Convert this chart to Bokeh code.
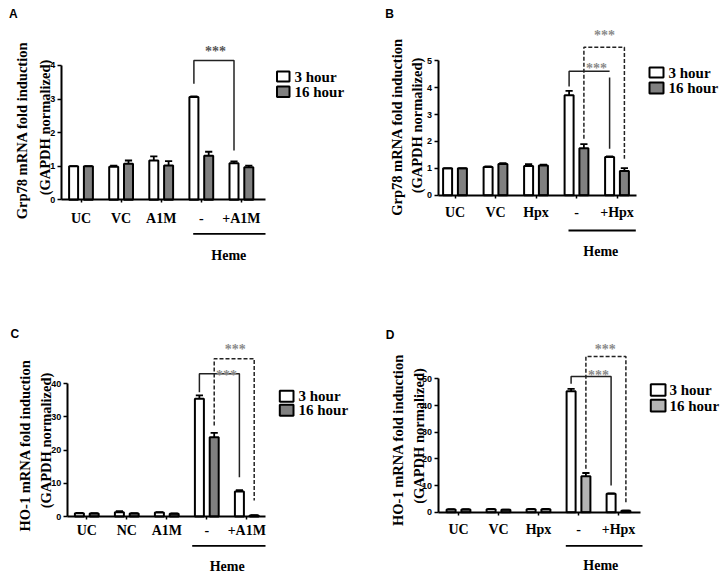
import numpy as np
from bokeh.plotting import figure
from bokeh.layouts import gridplot
from bokeh.models import FixedTicker, Range1d, ColumnDataSource
from bokeh.core.properties import value
from bokeh.embed import file_html
from bokeh.resources import INLINE

# ---------------- data ----------------
series = ["3 hour", "16 hour"]
group_label = "Heme"
ylab2 = "(GAPDH normalized)"

cats_A = ["UC", "VC", "A1M", "-", "+A1M"]
a_3h = [1.00, 0.98, 1.17, 3.06, 1.09]
a_3h_err = [0.00, 0.04, 0.12, 0.02, 0.05]
a_16h = [1.00, 1.07, 1.02, 1.31, 0.97]
a_16h_err = [0.00, 0.10, 0.13, 0.12, 0.05]
a_ticks = [0, 1, 2, 3, 4]
a_ylab = "Grp78 mRNA fold induction"

cats_B = ["UC", "VC", "Hpx", "-", "+Hpx"]
b_3h = [1.00, 1.05, 1.09, 3.72, 1.42]
b_3h_err = [0.00, 0.02, 0.06, 0.16, 0.02]
b_16h = [1.00, 1.16, 1.10, 1.75, 0.90]
b_16h_err = [0.00, 0.03, 0.04, 0.15, 0.11]
b_ticks = [0, 1, 2, 3, 4, 5]
b_ylab = "Grp78 mRNA fold induction"

cats_C = ["UC", "NC", "A1M", "-", "+A1M"]
c_3h = [1.0, 1.3, 1.2, 35.5, 7.5]
c_3h_err = [0.1, 0.3, 0.1, 1.0, 0.4]
c_16h = [0.9, 0.9, 0.8, 23.9, 0.3]
c_16h_err = [0.1, 0.1, 0.1, 1.3, 0.1]
c_ticks = [0, 10, 20, 30, 40]
c_ylab = "HO-1 mRNA fold induction"

cats_D = ["UC", "VC", "Hpx", "-", "+Hpx"]
d_3h = [1.0, 1.1, 1.1, 45.4, 6.9]
d_3h_err = [0.1, 0.1, 0.1, 0.9, 0.2]
d_16h = [1.0, 0.9, 1.1, 13.5, 0.5]
d_16h_err = [0.1, 0.1, 0.1, 1.2, 0.1]
d_ticks = [0, 10, 20, 30, 40, 50]
d_ylab = "HO-1 mRNA fold induction"

stars = "***"

# ---------------- layout (pixel geometry of each panel) ----------------
SERIF = "Liberation Serif"
SANS = "Liberation Sans"

geo = {
    "A": dict(ox=0, oy=0, w=362, h=287, axis_x=60.7, x_end=265, x0=80.5, sp=40.1, y0=199.3, ypx=33.6,
              standoff=8, letter=(8.5, 13.5),
              yl1=(21, 130), yl2=(44, 127),
              heme_line=(192.7, 265, 233.3), heme_txt=(228.3, 254.5),
              leg=dict(x=(276.5, 289), y1=(71, 81), y2=(86, 96.5), tx=294),
              fill16="#808080",
              brackets=[dict(kind="solid", top=60, lb=83.3, rb=150, rt=None, star=(215, 43.5), sc="#555555")]),
    "B": dict(ox=362, oy=0, w=363, h=287, axis_x=437.5, x_end=636, x0=454.5, sp=40.5, y0=194.7, ypx=26.9,
              standoff=7, letter=(384.7, 13.5),
              yl1=(396, 126.5), yl2=(416, 125),
              heme_line=(568, 635.3, 230), heme_txt=(600.3, 251),
              leg=dict(x=(649, 663), y1=(67, 77), y2=(82, 93), tx=668),
              fill16="#808080",
              brackets=[dict(kind="solid", top=70.7, lb=86, rb=148.3, rt=77, star=(596, 61), sc="#8a8a8a"),
                        dict(kind="dash", top=46.7, lb=138.3, rb=158.3, rt=None, star=(604, 28), sc="#8a8a8a")]),
    "C": dict(ox=0, oy=287, w=362, h=287, axis_x=66.7, x_end=265, x0=86.3, sp=40.0, y0=516, ypx=3.32,
              standoff=3, letter=(10, 333),
              yl1=(24, 445), yl2=(45.5, 440),
              heme_line=(191.7, 265, 545.3), heme_txt=(226.7, 565.5),
              leg=dict(x=(279.3, 293), y1=(390.3, 401.3), y2=(404.3, 415.3), tx=298),
              fill16="#808080",
              brackets=[dict(kind="solid", top=373.3, lb=391.7, rb=476.7, rt=None, star=(226, 368), sc="#8a8a8a"),
                        dict(kind="dash", top=358.3, lb=425, rb=500, rt=None, star=(234.7, 341.5), sc="#8a8a8a")]),
    "D": dict(ox=362, oy=287, w=363, h=287, axis_x=437.5, x_end=640, x0=458, sp=40.0, y0=511.7, ypx=2.665,
              standoff=7, letter=(385.3, 334),
              yl1=(397, 439.5), yl2=(418.5, 435.5),
              heme_line=(565.3, 642, 545.3), heme_txt=(600.3, 564.5),
              leg=dict(x=(650.3, 665), y1=(383.7, 395.3), y2=(399.3, 411), tx=669),
              fill16="#b4b4b4",
              brackets=[dict(kind="solid", top=376, lb=383.3, rb=485, rt=None, star=(598, 368), sc="#8a8a8a"),
                        dict(kind="dash", top=356, lb=468.3, rb=501.7, rt=None, star=(604.7, 341.5), sc="#8a8a8a")]),
}


def make_panel(key, cats, v3, e3, v16, e16, yticks, ylab1):
    g = geo[key]
    x0, sp, y0, ypx = g["x0"], g["sp"], g["y0"], g["ypx"]
    ox, oy, W, H = g["ox"], g["oy"], g["w"], g["h"]

    def X(rx):
        return (rx - x0) / sp

    def Y(ry):
        return (y0 - ry) / ypx

    p = figure(width=W, height=H, output_backend="svg", toolbar_location=None,
               x_range=Range1d(X(ox), X(ox + W)), y_range=Range1d(Y(oy + H), Y(oy)),
               min_border=0, min_border_left=0, min_border_right=0,
               min_border_top=0, min_border_bottom=0)
    p.outline_line_color = None
    p.grid.visible = False
    p.background_fill_color = "white"
    p.border_fill_color = "white"

    idx = np.arange(len(cats))
    off = 7.4 / sp
    bw = 9.0 / sp
    cw = 3.6 / sp

    for vals, errs, xs, fill in ((v3, e3, idx - off, "white"), (v16, e16, idx + off, g["fill16"])):
        v = np.array(vals, dtype=float)
        e = np.array(errs, dtype=float)
        src = ColumnDataSource(dict(x=xs, top=v, et=v + e, cl=xs - cw, cr=xs + cw))
        p.vbar(x="x", top="top", bottom=0, width=bw, fill_color=fill,
               line_color="black", line_width=2, source=src)
        p.segment(x0="x", y0="top", x1="x", y1="et", line_color="black", line_width=1.8, source=src)
        p.segment(x0="cl", y0="et", x1="cr", y1="et", line_color="black", line_width=1.8, source=src)

    # axes
    xa = p.xaxis[0]
    xa.fixed_location = 0
    xa.bounds = (X(g["axis_x"]), X(g["x_end"]))
    xa.ticker = FixedTicker(ticks=list(idx))
    xa.major_label_overrides = {int(i): c for i, c in zip(idx, cats)}
    xa.axis_line_width = 2
    xa.major_tick_line_width = 1.5
    xa.major_tick_out = 3
    xa.major_tick_in = 0
    xa.minor_tick_line_color = None
    xa.major_label_standoff = g["standoff"]
    xa.major_label_text_font = SERIF
    xa.major_label_text_font_size = "14px"
    xa.major_label_text_font_style = "bold"
    xa.major_label_text_color = "black"

    ya = p.yaxis[0]
    ya.fixed_location = X(g["axis_x"])
    ya.bounds = (0, yticks[-1])
    ya.ticker = FixedTicker(ticks=yticks)
    ya.axis_line_width = 2
    ya.major_tick_line_width = 1.5
    ya.major_tick_out = 4
    ya.major_tick_in = 0
    ya.minor_tick_line_color = None
    ya.major_label_standoff = 2
    ya.major_label_text_font = SANS
    ya.major_label_text_font_size = "9px"
    ya.major_label_text_font_style = "bold"
    ya.major_label_text_color = "black"

    # brackets and significance stars
    for b in g["brackets"]:
        if b["kind"] == "solid":
            xl, xr = 3 - off, 4 - off
            dash, lw, lc = "solid", 1.5, "#222222"
        else:
            xl, xr = 3 + off, 4 + off
            dash, lw, lc = "4 2", 1.5, "#222222"
        if b["rt"] is None:
            xs = [[xl, xl, xr, xr]]
            ys = [[Y(b["lb"]), Y(b["top"]), Y(b["top"]), Y(b["rb"])]]
        else:
            xs = [[xl, xl, xr], [xr, xr]]
            ys = [[Y(b["lb"]), Y(b["top"]), Y(b["top"])], [Y(b["rt"]), Y(b["rb"])]]
        p.multi_line(xs=xs, ys=ys, line_color=lc, line_width=lw, line_dash=dash)
        sx, sy = b["star"]
        p.text(x=[X(sx)], y=[Y(sy + 7)], text=[stars], text_align="center",
               text_baseline="alphabetic", text_font=value(SERIF), text_font_style="bold",
               text_font_size="14px", text_color=b["sc"])

    # group line and label
    hx1, hx2, hy = g["heme_line"]
    p.segment(x0=[X(hx1)], y0=[Y(hy)], x1=[X(hx2)], y1=[Y(hy)], line_color="black", line_width=1.8)
    tx, ty = g["heme_txt"]
    p.text(x=[X(tx)], y=[Y(ty)], text=[group_label], text_align="center",
           text_baseline="alphabetic", text_font=value(SERIF), text_font_style="bold",
           text_font_size="14px", text_color="black")

    # legend
    L = g["leg"]
    lx1, lx2 = L["x"]
    for (yt, yb), fill, name in ((L["y1"], "white", series[0]), (L["y2"], g["fill16"], series[1])):
        p.quad(left=[X(lx1)], right=[X(lx2)], top=[Y(yt)], bottom=[Y(yb)],
               fill_color=fill, line_color="black", line_width=2)
        p.text(x=[X(L["tx"])], y=[Y((yt + yb) / 2)], text=[name], text_align="left",
               text_baseline="middle", text_font=value(SERIF), text_font_style="bold",
               text_font_size="15px", text_color="black")

    # y-axis title (two rotated lines)
    for (cx, cy), txt in ((g["yl1"], ylab1), (g["yl2"], ylab2)):
        p.text(x=[X(cx)], y=[Y(cy)], text=[txt], angle=np.pi / 2, text_align="center",
               text_baseline="middle", text_font=value(SERIF), text_font_style="bold",
               text_font_size="14.5px", text_color="black")

    # panel letter
    lx, ly = g["letter"]
    p.text(x=[X(lx)], y=[Y(ly)], text=[key], text_align="left", text_baseline="alphabetic",
           text_font=value(SANS), text_font_style="bold", text_font_size="12px", text_color="black")
    return p


pA = make_panel("A", cats_A, a_3h, a_3h_err, a_16h, a_16h_err, a_ticks, a_ylab)
pB = make_panel("B", cats_B, b_3h, b_3h_err, b_16h, b_16h_err, b_ticks, b_ylab)
pC = make_panel("C", cats_C, c_3h, c_3h_err, c_16h, c_16h_err, c_ticks, c_ylab)
pD = make_panel("D", cats_D, d_3h, d_3h_err, d_16h, d_16h_err, d_ticks, d_ylab)

grid = gridplot([[pA, pB], [pC, pD]], toolbar_location=None)

open("out.html", "w").write(file_html(grid, INLINE))
